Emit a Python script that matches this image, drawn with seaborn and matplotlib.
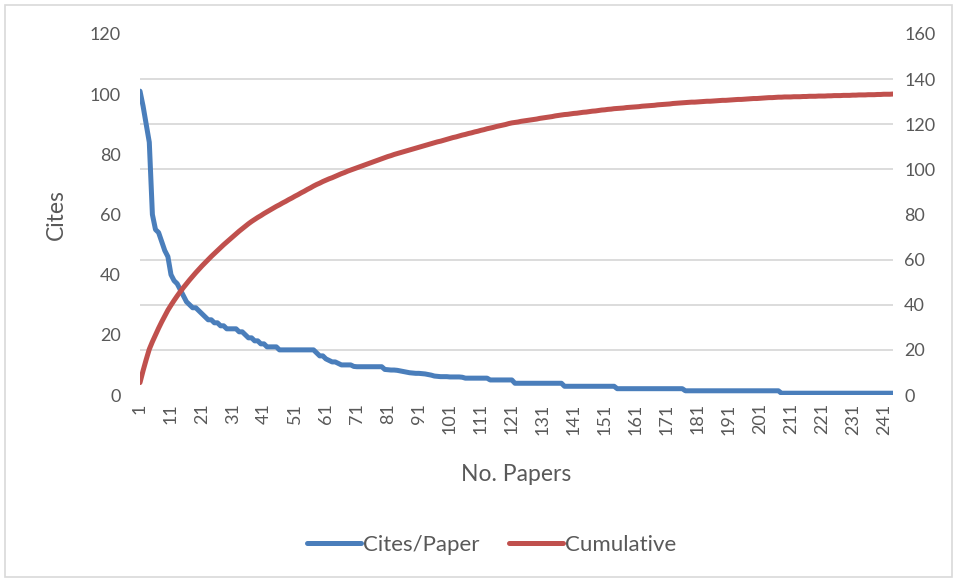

import matplotlib

matplotlib.use("Agg")

import numpy as np
import pandas as pd
import seaborn as sns
from matplotlib import pyplot as plt
from matplotlib.lines import Line2D
from matplotlib.patches import Rectangle
from matplotlib.ticker import MultipleLocator

BLUE = "#4a7ebb"
RED = "#c0504d"
TEXT = "#595959"
GRID = "#d9d9d9"

# cites for each paper, ranked (papers 1..244), rows of ten
cites_per_paper = [
    101, 96, 90, 84, 60, 55, 54, 51, 48, 46,
    40, 38, 37, 35, 33, 31, 30, 29, 29, 28,
    27, 26, 25, 25, 24, 24, 23, 23, 22, 22,
    22, 22, 21, 21, 20, 19, 19, 18, 18, 17,
    17, 16, 16, 16, 16, 15, 15, 15, 15, 15,
    15, 15, 15, 15, 15, 15, 15, 14, 13, 13,
    12, 11.5, 11, 11, 10.5, 10, 10, 10, 10, 9.5,
    9.4, 9.4, 9.4, 9.4, 9.4, 9.4, 9.4, 9.4, 9.4, 8.5,
    8.4, 8.3, 8.3, 8.2, 8, 7.8, 7.6, 7.4, 7.3, 7.2,
    7.2, 7.1, 7, 6.8, 6.6, 6.3, 6.2, 6.1, 6.1, 6.1,
    6, 6, 6, 6, 5.9, 5.6, 5.6, 5.6, 5.6, 5.6,
    5.6, 5.6, 5.6, 5, 5, 5, 5, 5, 5, 5,
    5, 3.9, 3.9, 3.9, 3.9, 3.9, 3.9, 3.9, 3.9, 3.9,
    3.9, 3.9, 3.9, 3.9, 3.9, 3.9, 3.9, 2.9, 2.9, 2.9,
    2.9, 2.9, 2.9, 2.9, 2.9, 2.9, 2.9, 2.9, 2.9, 2.9,
    2.9, 2.9, 2.9, 2.9, 2.1, 2.1, 2.1, 2.1, 2.1, 2.1,
    2.1, 2.1, 2.1, 2.1, 2.1, 2.1, 2.1, 2.1, 2.1, 2.1,
    2.1, 2.1, 2.1, 2.1, 2.1, 2.1, 1.4, 1.4, 1.4, 1.4,
    1.4, 1.4, 1.4, 1.4, 1.4, 1.4, 1.4, 1.4, 1.4, 1.4,
    1.4, 1.4, 1.4, 1.4, 1.4, 1.4, 1.4, 1.4, 1.4, 1.4,
    1.4, 1.4, 1.4, 1.4, 1.4, 1.4, 1.4, 0.6, 0.6, 0.6,
    0.6, 0.6, 0.6, 0.6, 0.6, 0.6, 0.6, 0.6, 0.6, 0.6,
    0.6, 0.6, 0.6, 0.6, 0.6, 0.6, 0.6, 0.6, 0.6, 0.6,
    0.6, 0.6, 0.6, 0.6, 0.6, 0.6, 0.6, 0.6, 0.6, 0.6,
    0.6, 0.6, 0.6, 0.6,
]

# cumulative series on the secondary axis, rows of ten
cumulative = [
    5.5, 10.8, 15.7, 20.3, 23.6, 26.6, 29.6, 32.4, 35.0, 37.6,
    39.8, 41.9, 43.9, 45.8, 47.6, 49.3, 51.0, 52.6, 54.2, 55.7,
    57.2, 58.6, 60.0, 61.4, 62.7, 64.0, 65.3, 66.6, 67.8, 69.0,
    70.2, 71.4, 72.6, 73.7, 74.8, 75.9, 76.9, 77.8, 78.7, 79.5,
    80.4, 81.2, 82.0, 82.8, 83.6, 84.3, 85.1, 85.8, 86.6, 87.3,
    88.1, 88.8, 89.6, 90.3, 91.1, 91.8, 92.6, 93.3, 93.9, 94.6,
    95.2, 95.8, 96.3, 96.9, 97.5, 98.1, 98.6, 99.2, 99.7, 100.2,
    100.7, 101.2, 101.7, 102.2, 102.7, 103.2, 103.7, 104.2, 104.7, 105.2,
    105.7, 106.1, 106.6, 107.0, 107.4, 107.8, 108.2, 108.6, 109.0, 109.4,
    109.8, 110.2, 110.6, 111.0, 111.4, 111.8, 112.2, 112.5, 112.9, 113.3,
    113.7, 114.1, 114.4, 114.8, 115.2, 115.5, 115.9, 116.2, 116.6, 116.9,
    117.3, 117.6, 118.0, 118.3, 118.6, 119.0, 119.3, 119.6, 119.9, 120.3,
    120.6, 120.8, 121.0, 121.3, 121.5, 121.7, 121.9, 122.1, 122.3, 122.6,
    122.8, 123.0, 123.2, 123.4, 123.7, 123.9, 124.1, 124.3, 124.4, 124.6,
    124.8, 124.9, 125.1, 125.3, 125.4, 125.6, 125.8, 125.9, 126.1, 126.3,
    126.4, 126.6, 126.7, 126.9, 127.0, 127.1, 127.2, 127.4, 127.5, 127.6,
    127.7, 127.8, 128.0, 128.1, 128.2, 128.3, 128.4, 128.6, 128.7, 128.8,
    128.9, 129.0, 129.2, 129.3, 129.4, 129.5, 129.6, 129.7, 129.8, 129.8,
    129.9, 130.0, 130.1, 130.2, 130.2, 130.3, 130.4, 130.5, 130.6, 130.6,
    130.7, 130.8, 130.9, 131.0, 131.0, 131.1, 131.2, 131.3, 131.4, 131.4,
    131.5, 131.6, 131.7, 131.8, 131.8, 131.9, 132.0, 132.0, 132.1, 132.1,
    132.1, 132.2, 132.2, 132.2, 132.3, 132.3, 132.4, 132.4, 132.4, 132.5,
    132.5, 132.5, 132.6, 132.6, 132.7, 132.7, 132.7, 132.8, 132.8, 132.8,
    132.9, 132.9, 133.0, 133.0, 133.0, 133.1, 133.1, 133.1, 133.2, 133.2,
    133.3, 133.3, 133.3, 133.4,
]

papers = np.arange(1, len(cites_per_paper) + 1)
x_ticks = list(range(1, 242, 10))
left_ticks = list(range(0, 121, 20))
right_ticks = list(range(0, 161, 20))


def main() -> None:
    sns.set_theme(style="white")
    plt.rcParams["font.family"] = ["Lato", "DejaVu Sans"]

    frame = pd.DataFrame({"paper": papers, "cites": cites_per_paper, "cumulative": cumulative})

    fig = plt.figure(figsize=(9.55, 5.8), dpi=100)
    ax = fig.add_axes([140 / 955, 1 - 395 / 580, 753 / 955, 361 / 580])
    ax2 = ax.twinx()

    sns.lineplot(data=frame, x="paper", y="cites", ax=ax, color=BLUE, linewidth=3.6,
                 solid_capstyle="round", solid_joinstyle="round")
    sns.lineplot(data=frame, x="paper", y="cumulative", ax=ax2, color=RED, linewidth=3.6,
                 solid_capstyle="round", solid_joinstyle="round")

    ax.set_xlim(1, len(papers))
    ax.set_ylim(0, 120)
    ax2.set_ylim(0, 160)
    ax.set_xticks(x_ticks)
    ax.set_xticklabels([str(t) for t in x_ticks], rotation=90)
    ax.set_yticks(left_ticks)
    ax2.set_yticks(right_ticks)

    # gridlines follow the secondary axis, drawn underneath both series
    ax.yaxis.set_minor_locator(MultipleLocator(15))
    ax.grid(which="minor", axis="y", color=GRID, linewidth=1.3)
    ax.grid(which="major", visible=False)
    ax2.grid(False)

    for a in (ax, ax2):
        for side in ("top", "left", "right", "bottom"):
            a.spines[side].set_visible(False)
        a.tick_params(which="both", length=0, labelsize=13, labelcolor=TEXT)
    ax.tick_params(axis="y", pad=14)
    ax.tick_params(axis="x", pad=6)
    ax2.tick_params(axis="y", pad=8)

    ax.set_xlabel("No. Papers", fontsize=16.5, color=TEXT)
    ax.set_ylabel("Cites", fontsize=16.5, color=TEXT)
    ax2.set_ylabel("")
    ax.xaxis.set_label_coords(0.499, -0.192)
    ax.yaxis.set_label_coords(-0.097, 0.5)

    handles = [
        Line2D([], [], color=BLUE, linewidth=3.6, solid_capstyle="round"),
        Line2D([], [], color=RED, linewidth=3.6, solid_capstyle="round"),
    ]
    fig.legend(handles, ["Cites/Paper", "Cumulative"], loc="center", bbox_to_anchor=(0.515, 0.06),
               ncol=2, frameon=False, fontsize=16, handlelength=2.4, handletextpad=0.1,
               columnspacing=1.35, labelcolor=TEXT)

    fig.patches.append(Rectangle((5 / 955, 3 / 580), 947 / 955, 572 / 580, transform=fig.transFigure,
                                 fill=False, edgecolor=GRID, linewidth=1.2))

    fig.savefig("out.png", dpi=100)
    plt.close(fig)


if __name__ == "__main__":
    main()
